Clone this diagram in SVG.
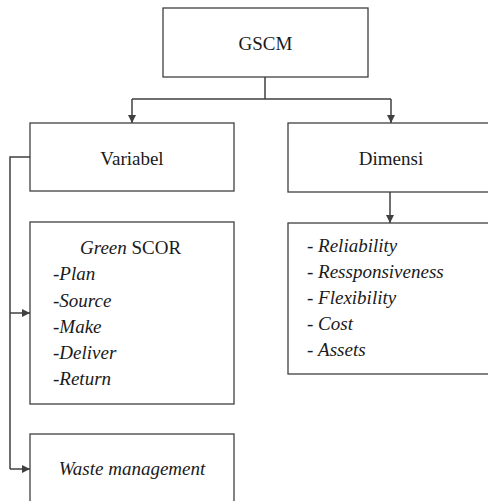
<svg xmlns="http://www.w3.org/2000/svg" width="488" height="501" viewBox="0 0 488 501">
<defs>
<style>
.box{fill:#fff;stroke:#404040;stroke-width:1.3}
text{font-size:19px;fill:#1a1a1a}
.i{font-style:italic}
.c{stroke:#404040;stroke-width:1.5;fill:none}
</style>
<marker id="ah" viewBox="0 0 10 10" refX="10" refY="5" markerWidth="8" markerHeight="8" markerUnits="userSpaceOnUse" orient="auto">
<path d="M0,0 L10,5 L0,10 z" fill="#404040"/>
</marker>
</defs>
<rect width="488" height="501" fill="#fff"/>
<g id="connectors">
<path class="c" d="M265,77 V99 M132,99 H391"/>
<path class="c" d="M132,99 V123" marker-end="url(#ah)"/>
<path class="c" d="M391,99 V123" marker-end="url(#ah)"/>
<path class="c" d="M390,192 V223" marker-end="url(#ah)"/>
<path class="c" d="M30,157 H10 V469"/>
<path class="c" d="M10,313 H30" marker-end="url(#ah)"/>
<path class="c" d="M10,469 H30" marker-end="url(#ah)"/>
</g>
<g font-family="Liberation Serif, Times New Roman, serif">
<g id="gscm">
<rect class="box" x="163" y="8" width="205" height="69"/>
<text x="265.5" y="50" text-anchor="middle">GSCM</text>
</g>
<g id="variabel">
<rect class="box" x="30" y="123" width="204" height="68"/>
<text x="132" y="165" text-anchor="middle">Variabel</text>
</g>
<g id="dimensi">
<rect class="box" x="288" y="123" width="210" height="69"/>
<text x="391" y="165" text-anchor="middle">Dimensi</text>
</g>
<g id="green-scor">
<rect class="box" x="30" y="222" width="204" height="182"/>
<text x="80" y="254"><tspan class="i">Green</tspan> SCOR</text>
<text x="53" y="280">-<tspan class="i">Plan</tspan></text>
<text x="53" y="306.5">-<tspan class="i">Source</tspan></text>
<text x="53" y="332.5">-<tspan class="i">Make</tspan></text>
<text x="53" y="358.5">-<tspan class="i">Deliver</tspan></text>
<text x="53" y="385">-<tspan class="i">Return</tspan></text>
</g>
<g id="dimensi-list">
<rect class="box" x="288" y="223" width="210" height="151"/>
<text x="307" y="252">- <tspan class="i">Reliability</tspan></text>
<text x="307" y="278">- <tspan class="i">Ressponsiveness</tspan></text>
<text x="307" y="304">- <tspan class="i">Flexibility</tspan></text>
<text x="307" y="330">- <tspan class="i">Cost</tspan></text>
<text x="307" y="356">- <tspan class="i">Assets</tspan></text>
</g>
<g id="waste">
<rect class="box" x="30" y="434" width="204" height="80"/>
<text class="i" x="132" y="475" text-anchor="middle">Waste management</text>
</g>
</g>
</svg>
